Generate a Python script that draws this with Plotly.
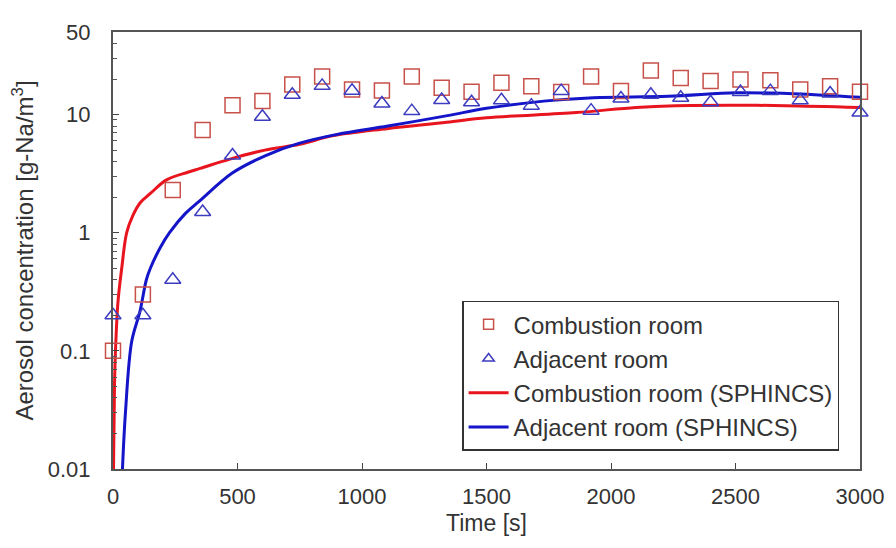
import plotly.graph_objects as go

# measured points (every 120 s)
t_meas = [0, 120, 240, 360, 480, 600, 720, 840, 960, 1080, 1200, 1320, 1440,
          1560, 1680, 1800, 1920, 2040, 2160, 2280, 2400, 2520, 2640, 2760, 2880, 3000]
combustion = [0.1, 0.3, 2.3, 7.4, 12, 13, 18, 21, 16.3, 16, 21, 16.9, 15.6,
              18.6, 17.4, 15.5, 21, 15.8, 23.6, 20.4, 19.2, 19.8, 19.5, 16.3, 17.4, 15.6]
adjacent = [0.2, 0.2, 0.4, 1.5, 4.5, 9.6, 14.7, 17.5, 15.9, 12.4, 10.7, 13.3, 12.7,
            13.2, 11.9, 15.8, 10.8, 13.7, 14.7, 13.9, 12.7, 15.5, 15.8, 13.2, 15.1, 10.4]

# SPHINCS results
t_sim_c = [2, 6, 10, 20, 35, 55, 80, 110, 150, 215, 300, 350, 470, 610, 750, 880,
           1100, 1340, 1500, 1860, 2100, 2260, 2500, 2700, 3000]
sim_c = [0.01, 0.05, 0.1, 0.26, 0.5, 1.0, 1.4, 1.8, 2.15, 2.8, 3.25, 3.5, 4.2, 5.0, 5.6, 6.6,
         7.6, 8.6, 9.4, 10.4, 11.5, 11.9, 12.0, 11.9, 11.5]
t_sim_a = [38, 50, 75, 108, 134, 150, 190, 227, 290, 347, 479, 613, 746, 900, 1104,
           1343, 1500, 1730, 1930, 2230, 2500, 2650, 2850, 3000]
sim_a = [0.01, 0.03, 0.12, 0.215, 0.4, 0.5, 0.75, 1.0, 1.45, 1.85, 3.2, 4.5, 5.7, 6.8, 8.0,
         9.8, 11.3, 13.0, 13.9, 14.3, 15.3, 15.2, 14.6, 14.0]

y_ticks = [0.01, 0.1, 1, 10, 50]
y_labels = ['0.01', '0.1', '1', '10', '50']
x_ticks = [0, 500, 1000, 1500, 2000, 2500, 3000]

SQ = '#c8504a'
TRI = '#3c3cc0'
RED = '#e8141e'
BLUE = '#1414c8'
FAMILY = 'Liberation Sans, Arial'
FONT = dict(family=FAMILY, size=22, color='#333333')

fig = go.Figure()

fig.add_trace(go.Scatter(x=t_sim_c, y=sim_c, mode='lines', line=dict(color=RED, width=3, shape='spline'),
                         showlegend=False))
fig.add_trace(go.Scatter(x=t_sim_a, y=sim_a, mode='lines', line=dict(color=BLUE, width=3, shape='spline'),
                         showlegend=False))
fig.add_trace(go.Scatter(x=t_meas, y=combustion, mode='markers', showlegend=False, cliponaxis=False,
                         marker=dict(symbol='square-open', size=15, color=SQ, line=dict(width=1.5))))
fig.add_trace(go.Scatter(x=t_meas, y=adjacent, mode='markers', showlegend=False, cliponaxis=False,
                         marker=dict(symbol='triangle-up-open', size=14, color=TRI, line=dict(width=1.5))))

# legend entries (smaller symbols as in the original legend)
fig.add_trace(go.Scatter(x=[None], y=[None], mode='markers', name='Combustion room',
                         marker=dict(symbol='square-open', size=10, color=SQ, line=dict(width=1.5))))
fig.add_trace(go.Scatter(x=[None], y=[None], mode='markers', name='Adjacent room',
                         marker=dict(symbol='triangle-up-open', size=10, color=TRI, line=dict(width=1.5))))
fig.add_trace(go.Scatter(x=[None], y=[None], mode='lines', name='Combustion room (SPHINCS)',
                         line=dict(color=RED, width=3)))
fig.add_trace(go.Scatter(x=[None], y=[None], mode='lines', name='Adjacent room (SPHINCS)',
                         line=dict(color=BLUE, width=3)))

fig.update_xaxes(
    range=[0, 3000], tickvals=x_ticks, ticks='inside', ticklen=6, tickcolor='#444',
    showline=True, linecolor='#555', linewidth=2, mirror=True, showgrid=False, zeroline=False,
    ticklabelstandoff=7,
    title=dict(text='Time [s]', font=dict(family=FAMILY, size=23, color='#333333'), standoff=6),
    tickfont=FONT,
)
fig.update_yaxes(
    type='log', range=[-2, 1.699], tickvals=y_ticks, ticktext=y_labels,
    ticks='inside', ticklen=6, tickcolor='#444',
    minor=dict(ticks='inside', ticklen=4, tickcolor='#555', dtick='D1', showgrid=False),
    showline=True, linecolor='#555', linewidth=2, mirror=True, showgrid=False, zeroline=False,
    ticklabelstandoff=16,
    title=dict(text='Aerosol concentration [g-Na/m<sup>3</sup>]',
               font=dict(family=FAMILY, size=24, color='#333333'), standoff=8),
    tickfont=FONT,
)

# page body has an 8px margin, so the figure is 8px smaller and margins shifted
fig.update_layout(
    width=888, height=540,
    margin=dict(l=105, r=32, t=17, b=79),
    plot_bgcolor='white', paper_bgcolor='white',
    font=FONT,
    legend=dict(x=0.972, y=0.385, xanchor='right', yanchor='top',
                bgcolor='white', bordercolor='#333', borderwidth=1.5,
                font=dict(family=FAMILY, size=24, color='#333333'),
                tracegroupgap=0, itemwidth=40),
)

fig.write_html('out.html')
